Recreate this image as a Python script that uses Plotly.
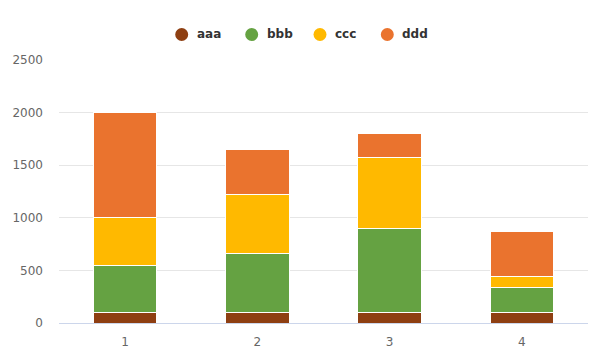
import plotly.graph_objects as go

categories = ["1", "2", "3", "4"]
series_names = ["aaa", "bbb", "ccc", "ddd"]
aaa = [100, 100, 100, 100]
bbb = [450, 560, 800, 240]
ccc = [450, 560, 670, 100]
ddd = [1000, 430, 230, 430]
y_ticks = [0, 500, 1000, 1500, 2000, 2500]

colors = ["#8E3F12", "#65A242", "#FFB900", "#EA732E"]
values = [aaa, bbb, ccc, ddd]

# figure geometry (page has an 8px body margin)
W, H = 598, 349
ML, MR, MT, MB = 51, 18, 52, 34
PW, PH = W - ML - MR, H - MT - MB


def px_to_paper_x(px):
    return (px - ML) / PW


def px_to_paper_y(py):
    return (H - MB - py) / PH


fig = go.Figure()
x_idx = list(range(len(categories)))
for name, vals, col in zip(series_names, values, colors):
    fig.add_trace(go.Bar(
        x=x_idx, y=vals, name=name, width=0.48,
        marker=dict(color=col, line=dict(color="#ffffff", width=1)),
        showlegend=False, hoverinfo="name+y",
    ))

shapes = []
annotations = []
# custom legend: circle symbols and bold labels
legend_circle_px = [173.7, 243.7, 312.0, 379.3]
legend_y_px = 26.5
for name, col, cx in zip(series_names, colors, legend_circle_px):
    shapes.append(dict(type="circle", xref="paper", yref="paper",
                       xsizemode="pixel", ysizemode="pixel",
                       xanchor=px_to_paper_x(cx), yanchor=px_to_paper_y(legend_y_px),
                       x0=-6.5, x1=6.5, y0=-6.5, y1=6.5,
                       fillcolor=col, line=dict(width=0)))
    annotations.append(dict(text=f"<b>{name}</b>", xref="paper", yref="paper",
                            x=px_to_paper_x(cx + 13), y=px_to_paper_y(legend_y_px),
                            xanchor="left", yanchor="middle", showarrow=False,
                            font=dict(size=12, color="#333333", family="DejaVu Sans")))

# faint ruler ticks along the right edge of the page (decoration)
for i in range(14):
    yy = px_to_paper_y(50 + i * 21.8)
    shapes.append(dict(type="line", xref="paper", yref="paper",
                       x0=px_to_paper_x(591), x1=px_to_paper_x(598),
                       y0=yy, y1=yy, line=dict(color="#d9d9d9", width=1)))

fig.update_layout(
    template="none",
    width=W, height=H,
    margin=dict(l=ML, r=MR, t=MT, b=MB, autoexpand=False),
    paper_bgcolor="white", plot_bgcolor="white",
    barmode="stack",
    showlegend=False,
    font=dict(family="DejaVu Sans", size=12, color="#666666"),
    xaxis=dict(range=[-0.5, 3.5], tickmode="array", tickvals=x_idx, ticktext=categories,
               showgrid=False, showline=True, linecolor="#ccd6eb", linewidth=1,
               ticks="", zeroline=False, ticklabelstandoff=8, automargin=False),
    yaxis=dict(range=[0, 2500], tickmode="array", tickvals=y_ticks,
               showgrid=True, gridcolor="#e6e6e6", gridwidth=1,
               zeroline=False, showline=False, ticks="", ticklabelstandoff=15,
               automargin=False),
    shapes=shapes,
    annotations=annotations,
    hovermode="x",
)

fig.write_html("out.html")
